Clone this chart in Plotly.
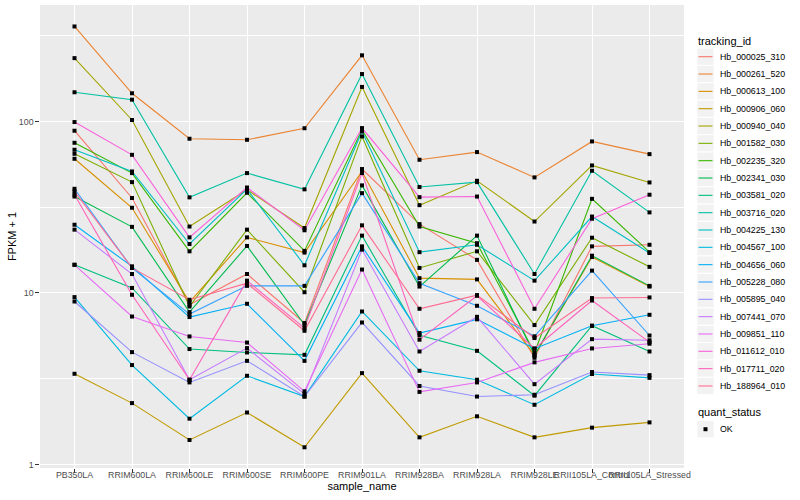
import plotly.graph_objects as go

samples = ["PB350LA", "RRIM600LA", "RRIM600LE", "RRIM600SE", "RRIM600PE", "RRIM901LA",
           "RRIM928BA", "RRIM928LA", "RRIM928LE", "RRII105LA_Control", "RRII105LA_Stressed"]

tracking_ids = ["Hb_000025_310", "Hb_000261_520", "Hb_000613_100", "Hb_000906_060", "Hb_000940_040",
                "Hb_001582_030", "Hb_002235_320", "Hb_002341_030", "Hb_003581_020", "Hb_003716_020",
                "Hb_004225_130", "Hb_004567_100", "Hb_004656_060", "Hb_005228_080", "Hb_005895_040",
                "Hb_007441_070", "Hb_009851_110", "Hb_011612_010", "Hb_017711_020", "Hb_188964_010"]

colors = ["#F8766D", "#EA8331", "#D89000", "#C09B00", "#A3A500", "#7CAE00", "#39B600", "#00BB4E",
          "#00BF7D", "#00C1A3", "#00BFC4", "#00BAE0", "#00B0F6", "#35A2FF", "#9590FF", "#C77CFF",
          "#E76BF3", "#FA62DB", "#FF62BC", "#FF6C91"]

# FPKM + 1 values per tracking id, in the order of `samples`
hb_000025_310 = [88.3, 35.8, 8.54, 12.9, 6.68, 52.8, 25.2, 15.6, 4.19, 18.7, 19.1]
hb_000261_520 = [358, 146, 79.3, 78.2, 91.3, 243, 59.8, 66.3, 47.2, 76.5, 64.5]
hb_000613_100 = [60.6, 31.4, 8.85, 21.1, 17.2, 51.1, 12.2, 12.0, 4.33, 16.2, 10.9]
hb_000906_060 = [3.38, 2.28, 1.39, 2.01, 1.26, 3.41, 1.44, 1.91, 1.44, 1.64, 1.76]
hb_000940_040 = [234, 102, 24.4, 40.0, 23.9, 159, 32.5, 45.1, 26.1, 55.4, 44.1]
hb_001582_030 = [64.8, 44.3, 8.34, 23.4, 10.1, 81.8, 14.0, 17.5, 6.50, 21.0, 14.2]
hb_002235_320 = [75.1, 50.0, 17.5, 38.4, 17.6, 89.5, 24.4, 19.5, 4.48, 35.4, 17.3]
hb_002341_030 = [36.5, 24.3, 7.74, 18.8, 6.53, 42.4, 10.9, 21.6, 4.33, 16.5, 11.0]
hb_003581_020 = [14.6, 10.7, 4.71, 4.50, 4.36, 21.6, 5.67, 4.60, 2.52, 6.44, 4.56]
hb_003716_020 = [148, 134, 36.1, 50.0, 40.2, 189, 41.5, 44.3, 12.9, 51.6, 29.5]
hb_004225_130 = [68.4, 51.1, 19.3, 40.3, 14.5, 87.4, 17.3, 19.1, 11.8, 27.9, 17.1]
hb_004567_100 = [9.46, 3.80, 1.85, 3.29, 2.49, 7.80, 3.52, 3.12, 2.23, 3.37, 3.20]
hb_004656_060 = [25.0, 14.3, 7.24, 8.65, 4.02, 18.7, 5.84, 7.02, 4.73, 6.44, 7.46]
hb_005228_080 = [40.5, 14.0, 7.53, 11.0, 11.0, 38.2, 11.4, 8.42, 5.59, 13.5, 5.65]
hb_005895_040 = [8.92, 4.52, 3.01, 4.02, 2.49, 6.73, 2.87, 2.49, 2.55, 3.46, 3.32]
hb_007441_070 = [23.4, 12.9, 3.12, 4.77, 2.58, 17.9, 4.56, 7.26, 2.94, 5.38, 5.30]
hb_009851_110 = [14.6, 7.29, 5.58, 5.14, 2.67, 13.7, 2.65, 3.01, 3.94, 4.75, 5.06]
hb_011612_010 = [99.2, 63.9, 21.1, 41.2, 23.2, 91.5, 36.2, 36.5, 8.09, 27.1, 37.4]
hb_017711_020 = [37.4, 9.76, 3.12, 11.8, 6.24, 50.0, 5.34, 9.63, 4.75, 9.04, 5.17]
hb_188964_010 = [39.1, 14.0, 9.13, 11.4, 6.02, 24.8, 8.09, 9.72, 5.46, 9.34, 9.42]

series = [hb_000025_310, hb_000261_520, hb_000613_100, hb_000906_060, hb_000940_040,
          hb_001582_030, hb_002235_320, hb_002341_030, hb_003581_020, hb_003716_020,
          hb_004225_130, hb_004567_100, hb_004656_060, hb_005228_080, hb_005895_040,
          hb_007441_070, hb_009851_110, hb_011612_010, hb_017711_020, hb_188964_010]

quant_status = ["OK"]

y_ticks = [1, 10, 100]
y_minor = [10 ** 0.5, 10 ** 1.5, 10 ** 2.5]

FONT = "Liberation Sans, Arial, Helvetica, sans-serif"
W, H = 800, 500
ML, MR, MT, MB = 40, 116, 5, 32
PW, PH = W - ML - MR, H - MT - MB


def px(x):
    return (x - ML) / PW


def py(y):
    return (H - MB - y) / PH


fig = go.Figure()

# lines first (like geom_line), then points on top (like geom_point)
for name, col, vals in zip(tracking_ids, colors, series):
    fig.add_trace(go.Scatter(x=samples, y=vals, mode="lines", name=name,
                             line=dict(color=col, width=1.1), showlegend=False,
                             hoverinfo="x+y+name"))
for name, vals in zip(tracking_ids, series):
    fig.add_trace(go.Scatter(x=samples, y=vals, mode="markers", name=name,
                             marker=dict(color="black", size=4, symbol="square"),
                             showlegend=False, hoverinfo="skip"))

shapes = []
annotations = []

# legend: tracking_id
annotations.append(dict(text="tracking_id", x=px(696), y=py(40.7), xref="paper", yref="paper",
                        xanchor="left", yanchor="middle", showarrow=False,
                        font=dict(family=FONT, size=11, color="black")))
step = 17.33
for i, (name, col) in enumerate(zip(tracking_ids, colors)):
    cy = 56.7 + step * i
    shapes.append(dict(type="rect", xref="paper", yref="paper",
                       x0=px(696.8), x1=px(714.1), y0=py(cy - step / 2), y1=py(cy + step / 2),
                       fillcolor="#F2F2F2", line=dict(color="white", width=1), layer="above"))
    shapes.append(dict(type="line", xref="paper", yref="paper",
                       x0=px(698.5), x1=px(712.5), y0=py(cy), y1=py(cy),
                       line=dict(color=col, width=1.1), layer="above"))
    annotations.append(dict(text=name, x=px(717.5), y=py(cy), xref="paper", yref="paper",
                            xanchor="left", yanchor="middle", showarrow=False,
                            font=dict(family=FONT, size=8.8, color="black")))

# legend: quant_status
annotations.append(dict(text="quant_status", x=px(696), y=py(412.3), xref="paper", yref="paper",
                        xanchor="left", yanchor="middle", showarrow=False,
                        font=dict(family=FONT, size=11, color="black")))
for j, q in enumerate(quant_status):
    cy = 429.2 + step * j
    shapes.append(dict(type="rect", xref="paper", yref="paper",
                       x0=px(696.8), x1=px(714.1), y0=py(cy - step / 2), y1=py(cy + step / 2),
                       fillcolor="#F2F2F2", line=dict(color="white", width=1), layer="above"))
    shapes.append(dict(type="rect", xref="paper", yref="paper",
                       x0=px(703.5), x1=px(707.5), y0=py(cy + 2), y1=py(cy - 2),
                       fillcolor="black", line=dict(width=0), layer="above"))
    annotations.append(dict(text=q, x=px(717.5), y=py(cy), xref="paper", yref="paper",
                            xanchor="left", yanchor="middle", showarrow=False,
                            font=dict(family=FONT, size=8.8, color="black")))

fig.update_layout(
    width=W, height=H, autosize=False,
    margin=dict(l=ML, r=MR, t=MT, b=MB, pad=0),
    paper_bgcolor="white", plot_bgcolor="#EBEBEB",
    font=dict(family=FONT, size=11, color="black"),
    showlegend=False,
    shapes=shapes, annotations=annotations,
    xaxis=dict(type="category", categoryorder="array", categoryarray=samples,
               range=[-0.6, len(samples) - 0.4], tickangle=0,
               showgrid=True, gridcolor="white", gridwidth=1.4, zeroline=False, showline=False,
               ticks="outside", ticklen=3.7, tickwidth=1, tickcolor="#333333",
               ticklabelstandoff=-5,
               tickfont=dict(family=FONT, size=8.8, color="#4D4D4D"),
               title=dict(text="sample_name", font=dict(family=FONT, size=11, color="black"),
                          standoff=0),
               automargin=False),
    yaxis=dict(type="log", range=[-0.0204, 2.679],
               tickmode="array", tickvals=y_ticks, ticktext=[str(v) for v in y_ticks],
               showgrid=True, gridcolor="white", gridwidth=1.4, zeroline=False, showline=False,
               ticks="outside", ticklen=3.7, tickwidth=1, tickcolor="#333333",
               tickfont=dict(family=FONT, size=8.8, color="#4D4D4D"),
               minor=dict(tickmode="array", tickvals=y_minor, showgrid=True,
                          gridcolor="white", gridwidth=0.7, ticks=""),
               title=dict(text="FPKM + 1", font=dict(family=FONT, size=11, color="black"),
                          standoff=0),
               automargin=False),
)

fig.write_html("out.html", config={"displayModeBar": False},
               post_script="document.body.style.margin='0';document.body.style.overflow='hidden';")
